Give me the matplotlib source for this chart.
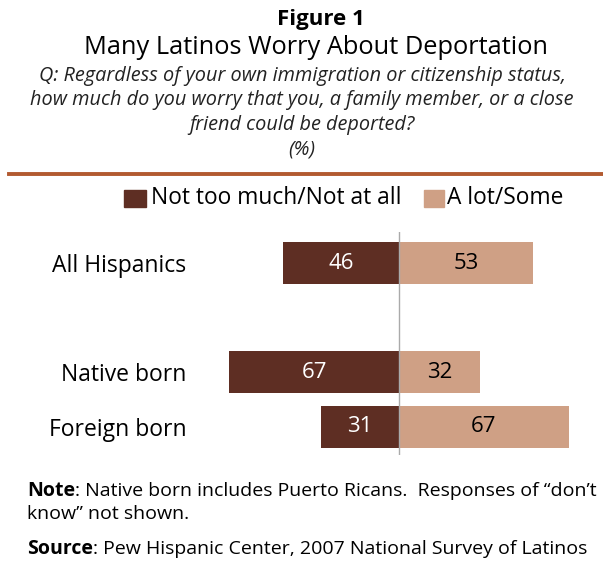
import matplotlib
matplotlib.use('Agg')
import matplotlib.pyplot as plt

plt.rcParams['font.family'] = ['Open Sans', 'DejaVu Sans']

# data
groups = ['All Hispanics', 'Native born', 'Foreign born']
ypos = [0, 2, 3]
not_much = [46, 67, 31]
a_lot = [53, 32, 67]

dark = '#5e2e23'
light = '#cfa085'
W, H = 603, 572

fig = plt.figure(figsize=(W/100, H/100), dpi=100)

def fx(px):
    return px / W

def fy(py):
    return 1 - py / H

# titles
fig.text(fx(321), fy(19), 'Figure 1', ha='center', va='center', fontsize=16, fontweight='bold')
fig.text(fx(316), fy(47), 'Many Latinos Worry About Deportation', ha='center', va='center', fontsize=18.3)
question = ['Q: Regardless of your own immigration or citizenship status,',
            'how much do you worry that you, a family member, or a close',
            'friend could be deported?',
            '(%)']
for i, line in enumerate(question):
    fig.text(fx(302), fy(76 + 24.5 * i), line, ha='center', va='center',
             fontsize=14.3, style='italic', color='#222222')

# rule under the header
fig.add_artist(plt.Line2D([fx(9), 1], [fy(174), fy(174)], color='#b25a30', lw=2.8))

# legend
fig.patches.append(plt.Rectangle((fx(124), fy(207)), fx(22), 17/H, color=dark, transform=fig.transFigure))
fig.text(fx(151), fy(198), 'Not too much/Not at all', ha='left', va='center', fontsize=16.4)
fig.patches.append(plt.Rectangle((fx(424), fy(207)), fx(20), 17/H, color=light, transform=fig.transFigure))
fig.text(fx(447), fy(198), 'A lot/Some', ha='left', va='center', fontsize=16.4)

# bars
ax = fig.add_axes([fx(199), fy(455), 1 - fx(199), fy(232) - fy(455)])
ax.barh(ypos, [-v for v in not_much], height=0.77, color=dark)
ax.barh(ypos, a_lot, height=0.77, color=light)
for y, v in zip(ypos, not_much):
    ax.text(-v / 2, y, str(v), ha='center', va='center', color='white', fontsize=16)
for y, v in zip(ypos, a_lot):
    ax.text(v / 2, y, str(v), ha='center', va='center', color='black', fontsize=16)
ax.axvline(0, color='#aaaaaa', lw=1)
ax.set_xlim(-79, 80.6)
ax.set_ylim(3.52, -0.57)
ax.set_yticks(ypos)
ax.set_yticklabels(groups, fontsize=16.5)
ax.tick_params(axis='y', length=0, pad=9)
ax.set_xticks([])
for s in ax.spines.values():
    s.set_visible(False)

# notes
fig.canvas.draw()
r = fig.canvas.get_renderer()
t = fig.text(fx(27), fy(491), 'Note', ha='left', va='center', fontsize=14, fontweight='bold')
bb = t.get_window_extent(r)
fig.text(bb.x1 / W, fy(491), ': Native born includes Puerto Ricans.  Responses of \u201cdon\u2019t',
         ha='left', va='center', fontsize=14)
fig.text(fx(27), fy(514), 'know\u201d not shown.', ha='left', va='center', fontsize=14)
t = fig.text(fx(27), fy(549), 'Source', ha='left', va='center', fontsize=14, fontweight='bold')
bb = t.get_window_extent(r)
fig.text(bb.x1 / W, fy(549), ': Pew Hispanic Center, 2007 National Survey of Latinos',
         ha='left', va='center', fontsize=14)

fig.savefig('out.png', dpi=100)
